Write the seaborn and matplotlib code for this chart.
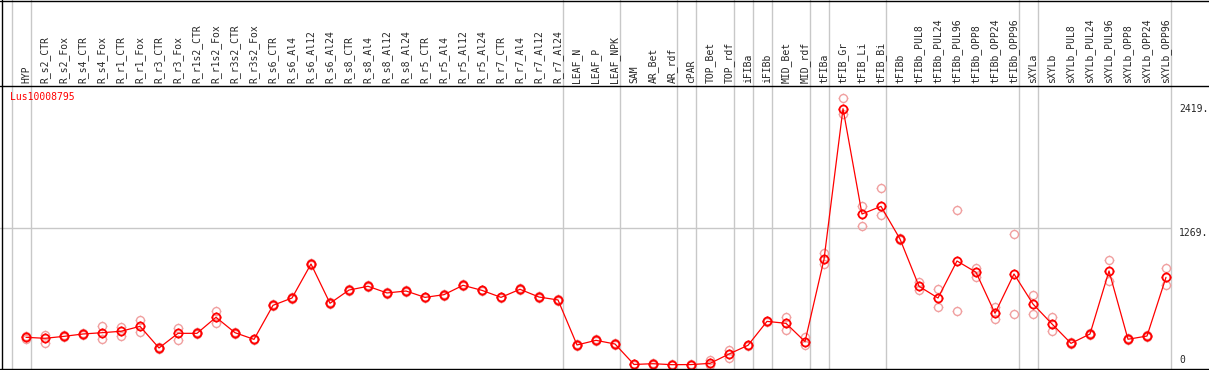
import matplotlib
matplotlib.use("Agg")
import matplotlib.pyplot as plt
import matplotlib.transforms as mtransforms
from matplotlib.lines import Line2D
from matplotlib.path import Path
import numpy as np
import pandas as pd
import seaborn as sns

# sample columns (left to right)
samples = [
    "HYP", "R_s2_CTR", "R_s2_Fox", "R_s4_CTR", "R_s4_Fox", "R_r1_CTR", "R_r1_Fox",
    "R_r3_CTR", "R_r3_Fox", "R_r1s2_CTR", "R_r1s2_Fox", "R_r3s2_CTR", "R_r3s2_Fox",
    "R_s6_CTR", "R_s6_Al4", "R_s6_Al12", "R_s6_Al24", "R_s8_CTR", "R_s8_Al4",
    "R_s8_Al12", "R_s8_Al24", "R_r5_CTR", "R_r5_Al4", "R_r5_Al12", "R_r5_Al24",
    "R_r7_CTR", "R_r7_Al4", "R_r7_Al12", "R_r7_Al24", "LEAF_N", "LEAF_P", "LEAF_NPK",
    "SAM", "AR_Bet", "AR_rdf", "cPAR", "TOP_Bet", "TOP_rdf", "iFIBa", "iFIBb",
    "MID_Bet", "MID_rdf", "tFIBa", "tFIB_Gr", "tFIB_Li", "tFIB_Bi", "tFIBb",
    "tFIBb_PUL8", "tFIBb_PUL24", "tFIBb_PUL96", "tFIBb_OPP8", "tFIBb_OPP24",
    "tFIBb_OPP96", "sXYLa", "sXYLb", "sXYLb_PUL8", "sXYLb_PUL24", "sXYLb_PUL96",
    "sXYLb_OPP8", "sXYLb_OPP24", "sXYLb_OPP96",
]

# mean expression per sample
mean_expr = [
    257, 248, 266, 288, 300, 313, 359, 158, 294, 294, 443, 300, 238,
    554, 622, 938, 573, 696, 731, 669, 687, 628, 653, 740, 693,
    628, 703, 631, 604, 186, 229, 195,
    5, 12, 3, 4, 15, 102, 183, 405,
    387, 217, 981, 2380, 1402, 1473, 1170,
    731, 622, 966, 861, 480,
    845, 566, 381, 201, 288, 873,
    239, 269, 814,
]

# replicates (upper / lower)
rep_hi = [
    265, 279, 275, 300, 365, 356, 418, 165, 346, 305, 501, 310, 245,
    562, 630, 946, 581, 704, 739, 677, 695, 636, 661, 748, 701,
    636, 711, 639, 612, 194, 237, 203,
    12, 20, 10, 10, 46, 139, 190, 410,
    449, 257, 1037, 2476, 1476, 1643, 1180,
    774, 703, 1439, 904, 541,
    1216, 650, 443, 210, 295, 972,
    248, 276, 898,
]
rep_lo = [
    240, 207, 258, 280, 241, 269, 303, 150, 235, 285, 387, 290, 230,
    546, 614, 930, 565, 688, 723, 661, 679, 620, 645, 732, 685,
    620, 695, 623, 596, 178, 221, 187,
    0, 4, 0, 0, 0, 62, 175, 400,
    325, 186, 935, 2328, 1291, 1390, 1160,
    696, 536, 501, 814, 424,
    471, 471, 316, 192, 280, 780,
    230, 262, 743,
]

# sample index after which a group separator is drawn
group_breaks = [-1, 0, 28, 31, 34, 35, 37, 38, 39, 41, 42, 45, 52, 53, 60]
y_ticks = [0, 1269, 2419]
y_tick_labels = ["0", "1269.", "2419."]
gene_id = "Lus10008795"

# layout (pixels)
W, H = 1209, 370
x_first, x_step, plot_right = 26, 19, 1171
y_zero, px_per_unit = 365, 0.1077
header_bottom = 85

red = "#ff0000"
pink = "#f0a0a0"
grid = "#c8c8c8"
mono = "DejaVu Sans Mono"

sns.set_style("white")
plt.rcParams["font.family"] = [mono, "DejaVu Sans"]

pos = list(range(len(samples)))
mean_df = pd.DataFrame({"pos": pos, "value": mean_expr})
rep_df = pd.DataFrame({
    "pos": pos + pos,
    "value": rep_hi + rep_lo,
    "rep": ["a"] * len(pos) + ["b"] * len(pos),
})

# round marker with tiny ticks just outside the ring
t = np.linspace(0, 2 * np.pi, 33)
circle = Path(np.column_stack([np.cos(t), np.sin(t)]))
stubs = Path([(0, 1), (0, 1.22), (0, -1), (0, -1.22), (1, 0), (1.22, 0), (-1, 0), (-1.22, 0)],
             [Path.MOVETO, Path.LINETO] * 4)
ring = Path.make_compound_path(circle, stubs)

fig = plt.figure(figsize=(W / 100, H / 100), dpi=100)
ax = fig.add_axes([0, 0, plot_right / W, 1])
ax.set_xlim(-x_first / x_step, (plot_right - x_first) / x_step)
ax.set_ylim(-(H - y_zero) / px_per_unit, y_zero / px_per_unit)
ax.set_axis_off()

for k in group_breaks:
    ax.axvline(k + 0.24, color=grid, lw=1, zorder=1, clip_on=False)
ax.axhline(y_ticks[1], color=grid, lw=1, zorder=1)

sns.lineplot(data=rep_df, x="pos", y="value", units="rep", estimator=None,
             linestyle="none", marker=ring, markersize=7, markerfacecolor="none",
             markeredgecolor=pink, markeredgewidth=1.0, color=pink, legend=False,
             ax=ax, zorder=2)
sns.lineplot(data=mean_df, x="pos", y="value", color=red, lw=0.9, errorbar=None,
             marker=ring, markersize=7, markerfacecolor="none",
             markeredgecolor=red, markeredgewidth=1.3, legend=False, ax=ax, zorder=3)

# rotated sample labels in the header
hdr = mtransforms.blended_transform_factory(ax.transData, ax.transAxes)
for i, name in enumerate(samples):
    ax.text(i, (H - header_bottom + 2) / H, name, rotation=90, ha="center", va="bottom",
            fontsize=7, family=mono, transform=hdr, clip_on=False)

# value labels on the right
lab_x = (1179 - x_first) / x_step
for v, s in zip(y_ticks, y_tick_labels):
    ax.text(lab_x, v, s, ha="left", va="bottom" if v == 0 else "top",
            fontsize=7, family=mono, clip_on=False)

fig.text(10 / W, 1 - 97 / H, gene_id, color=red, fontsize=7, family=mono,
         ha="left", va="center")

# frame lines
for yy in (0.5, header_bottom + 0.5, H - 1.5):
    fig.add_artist(Line2D([0, 1], [1 - yy / H] * 2, color="black", lw=1,
                          transform=fig.transFigure))
fig.add_artist(Line2D([1.5 / W] * 2, [0, 1], color="black", lw=1,
                      transform=fig.transFigure))

fig.savefig("out.png", dpi=100)
